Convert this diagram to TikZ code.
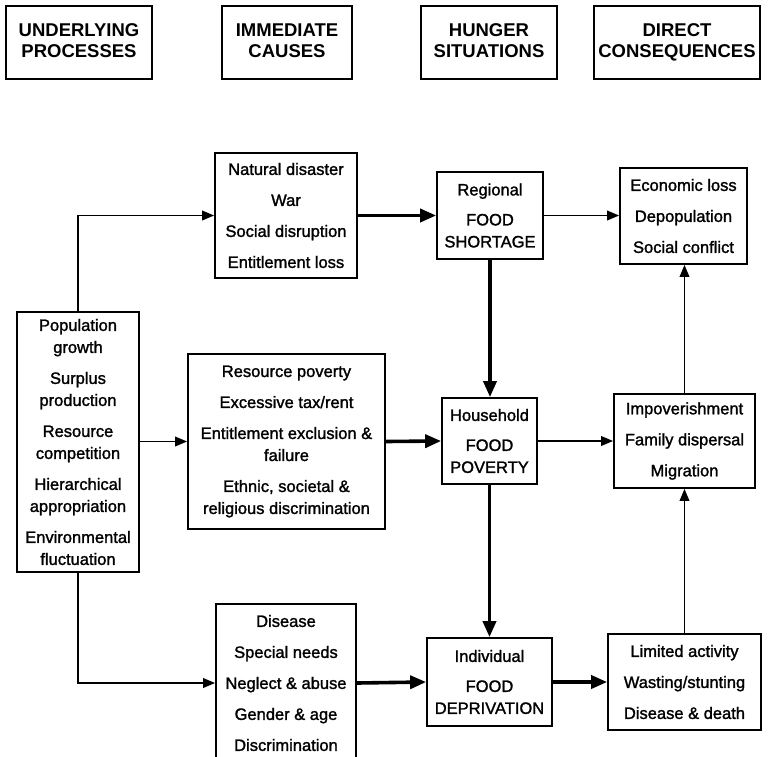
\documentclass[tikz,border=0pt]{standalone}
\usepackage{fontspec}
\setmainfont{Liberation Sans}
\newfontfamily\boxfont[FakeBold=1.5]{Liberation Sans}
\usetikzlibrary{arrows.meta}
\begin{document}
\begin{tikzpicture}[x=1pt,y=-1pt,
  header/.style={draw,line width=2.4pt,align=center,inner sep=0pt,
    font=\fontsize{18.5}{21}\selectfont\bfseries,minimum height=73pt},
  box/.style={draw,line width=1.7pt,align=center,inner sep=0pt,
    font=\boxfont\fontsize{16.5}{22}\selectfont},
  thin/.style={line width=1.9pt,-{Triangle[length=12pt,width=9.5pt]}},
  thick/.style={line width=3.6pt,-{Triangle[length=16pt,width=13pt]}}]
\clip (0,0) rectangle (771,756);
\fill[white] (0,0) rectangle (771,756);

% column headings
\node[header,minimum width=146pt] (hUP) at (79,42.5) {UNDERLYING\\PROCESSES\vphantom{Q}};
\node[header,minimum width=130pt] (hIC) at (287,42.5) {IMMEDIATE\\CAUSES\vphantom{Q}};
\node[header,minimum width=136pt] (hHS) at (489,42.5) {HUNGER\\SITUATIONS\vphantom{Q}};
\node[header,minimum width=166pt] (hDC) at (677,42.5) {DIRECT\\CONSEQUENCES};

% underlying processes
\node[box,minimum width=122pt,minimum height=260pt] (under) at (78,442)
  {Population\\growth\\[9pt]Surplus\\production\\[9pt]Resource\\competition\\[9pt]Hierarchical\\appropriation\\[9pt]Environmental\\fluctuation};

% immediate causes
\node[box,minimum width=142pt,minimum height=125pt] (nat) at (286,215.5)
  {Natural disaster\\[9pt]War\\[9pt]Social disruption\\[9pt]Entitlement loss};
\node[box,minimum width=197pt,minimum height=175pt] (res) at (286.5,441.5)
  {Resource poverty\\[9pt]Excessive tax/rent\\[9pt]Entitlement exclusion \&\\failure\\[9pt]Ethnic, societal \&\\religious discrimination};
\node[box,minimum width=140pt,minimum height=158pt] (dis) at (286,683)
  {Disease\\[9pt]Special needs\\[9pt]Neglect \& abuse\\[9pt]Gender \& age\\[9pt]Discrimination};

% hunger situations
\node[box,minimum width=106pt,minimum height=87pt] (reg) at (490,215.5)
  {Regional\\[8pt]FOOD\\SHORTAGE};
\node[box,minimum width=95pt,minimum height=86pt] (hou) at (489.5,441)
  {Household\\[8pt]FOOD\\POVERTY};
\node[box,minimum width=125pt,minimum height=88pt] (ind) at (489.5,682)
  {Individual\\[8pt]FOOD\\DEPRIVATION};

% direct consequences
\node[box,minimum width=127pt,minimum height=96pt] (eco) at (683.5,216)
  {Economic loss\\[9pt]Depopulation\\[9pt]Social conflict};
\node[box,minimum width=141pt,minimum height=94pt] (imp) at (684.5,441)
  {Impoverishment\\[9pt]Family dispersal\\[9pt]Migration};
\node[box,minimum width=153pt,minimum height=96pt] (lim) at (684.5,682)
  {Limited activity\\[9pt]Wasting/stunting\\[9pt]Disease \& death};

% connectors
\draw[thin] (under.north) |- (nat.west);
\draw[thin] (under.east |- res.west) -- (res.west);
\draw[thin] (under.south) |- (dis.west);

\draw[thick] (nat.east) -- (reg.west);
\draw[thick] (res.east) -- (hou.west);
\draw[thick] (dis.east) -- (ind.west);

\draw[thick] (reg.south) -- (reg.south |- hou.north);
\draw[thick] (hou.south) -- (hou.south |- ind.north);

\draw[thin] (reg.east) -- (reg.east -| eco.west);
\draw[thin] (hou.east) -- (hou.east -| imp.west);
\draw[thick] (ind.east) -- (ind.east -| lim.west);

\draw[thin] (lim.north) -- (lim.north |- imp.south);
\draw[thin] (imp.north) -- (imp.north |- eco.south);
\end{tikzpicture}
\end{document}
